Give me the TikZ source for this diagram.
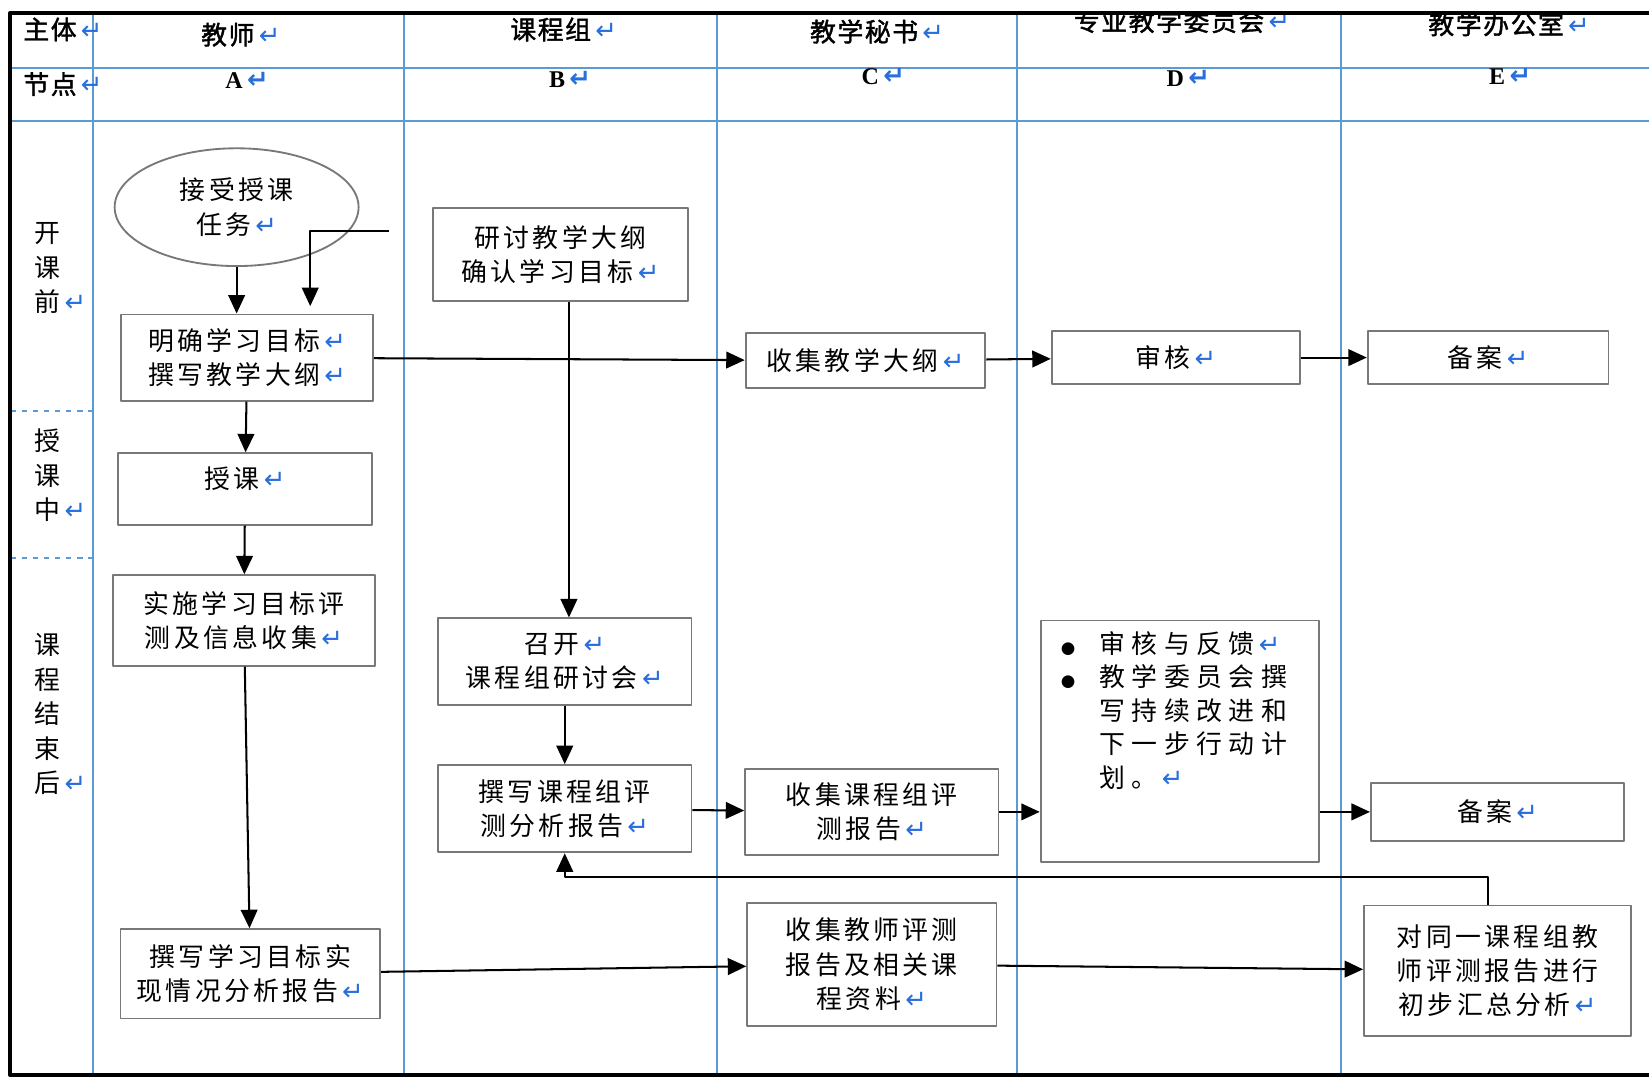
\documentclass[tikz,border=0pt]{standalone}
\usepackage{fontspec}
\setmainfont{Liberation Serif}
\newfontfamily\cjk[LetterSpace=13]{Noto Sans CJK SC}
\newfontfamily\cjkwide[LetterSpace=25]{Noto Sans CJK SC}
\newfontfamily\cjkhead[FakeBold=1.5,LetterSpace=6]{Noto Sans CJK SC}
\newfontfamily\symfont{DejaVu Sans}
\usetikzlibrary{arrows.meta,shapes.geometric}
\definecolor{laneblue}{RGB}{91,155,213}
\definecolor{retblue}{RGB}{40,110,220}
\definecolor{boxgray}{RGB}{120,120,120}
\newcommand\retmark{{\symfont\fontsize{14}{14}\selectfont\color{retblue}\,\char"21B5}}
\newcommand\dotmark{\llap{{\symfont\fontsize{9}{9}\selectfont\char"25CF}\hspace{13pt}}}
\begin{document}
\begin{tikzpicture}[x=0.02cm,y=-0.02cm,>={Triangle[length=10pt,width=9pt]},line join=round,
	box/.style={draw=boxgray,line width=1pt,align=center,font=\cjk\fontsize{14}{18.6}\selectfont},
	flow/.style={->,line width=1.1pt},
	lane/.style={draw=laneblue,line width=1.1pt},
	headtxt/.style={font=\cjkhead\fontsize{14}{18}\selectfont},
	rowtxt/.style={align=center,font=\cjk\fontsize{14}{18.7}\selectfont},
	nodeltr/.style={font=\bfseries\fontsize{13}{13}\selectfont}]
	\path[use as bounding box,fill=white] (0,0) rectangle (1568,1027);
	% Làn và hàng
	\foreach \x in {88,384,682,967,1275} \draw[lane] (\x,13)--(\x,1022);
	\foreach \y in {65,115} \draw[lane] (10,\y)--(1568,\y);
	\foreach \y in {391,531} \draw[lane,dashed] (10,\y)--(88,\y);
	\begin{scope}
		\clip (10,15) rectangle (1568,1022);
		\node[headtxt,anchor=west] (hSubj) at (16,28) {主体\retmark};
		\node[headtxt,anchor=west] (hNode) at (16,80) {节点\retmark};
		\node[headtxt] (hA) at (229,33) {教师\retmark};
		\node[headtxt] (hB) at (536,28) {课程组\retmark};
		\node[headtxt] (hC) at (834,30) {教学秘书\retmark};
		\node[headtxt] (hD) at (1124,20) {专业教学委员会\retmark};
		\node[headtxt] (hE) at (1435,23) {教学办公室\retmark};
	\end{scope}
	\foreach \l/\x/\y in {A/235/76,B/542/76,C/840/73,D/1130/75,E/1436/73}
	\node[nodeltr] (n\l) at (\x,\y) {\l\retmark};
	\draw[line width=2.3pt] (1568,12.7)--(9.5,12.7)--(9.5,1022)--(1568,1022);
	\node[rowtxt] (phaseA) at (45,255) {开\\课\\前\rlap{\retmark}};
	\node[rowtxt] (phaseB) at (45,452) {授\\课\\中\rlap{\retmark}};
	\node[rowtxt] (phaseC) at (45,679) {课\\程\\结\\束\\后\rlap{\retmark}};
	% Các bước
	\node[box,shape=ellipse,minimum width=4.64cm,minimum height=2.24cm] (accept) at (225,197) {接受授课\\任务\retmark};
	\node[box,minimum width=4.8cm,minimum height=1.64cm] (goals) at (235,340) {明确学习目标\retmark\\撰写教学大纲\retmark};
	\node[box,minimum width=4.84cm,minimum height=1.78cm] (syllabus) at (533,242) {研讨教学大纲\\确认学习目标\retmark};
	\node[box,minimum width=4.84cm,minimum height=1.36cm,text depth=12pt] (teach) at (233,465) {授课\retmark};
	\node[box,minimum width=4.98cm,minimum height=1.72cm] (assess) at (232,590) {实施学习目标评\\测及信息收集\retmark};
	\node[box,minimum width=4.94cm,minimum height=1.7cm] (tReport) at (238,926) {撰写学习目标实\\现情况分析报告\retmark};
	\node[box,minimum width=4.82cm,minimum height=1.64cm] (meeting) at (537,629) {召开\retmark\\课程组研讨会\retmark};
	\node[box,minimum width=4.82cm,minimum height=1.66cm] (gReport) at (537,769) {撰写课程组评\\测分析报告\retmark};
	\node[box,minimum width=4.56cm,minimum height=1.04cm] (collectS) at (823,343) {收集教学大纲\retmark};
	\node[box,minimum width=4.72cm,minimum height=1.02cm] (review) at (1118,340) {审核\retmark};
	\node[box,minimum width=4.58cm,minimum height=1.02cm] (fileA) at (1415,340) {备案\retmark};
	\node[box,minimum width=4.82cm,minimum height=1.64cm] (collectG) at (829,772) {收集课程组评\\测报告\retmark};
	\node[box,minimum width=5.3cm,minimum height=4.6cm] (feedback) at (1122,705) {};
	\node[anchor=north west,inner sep=0pt,align=left,font=\cjkwide\fontsize{14}{18.1}\selectfont] (feedbackTxt) at (1045,600)
	{\dotmark 审核与反馈\retmark\\\dotmark 教学委员会撰\\写持续改进和\\下一步行动计\\划。\retmark};
	\node[box,minimum width=4.82cm,minimum height=1.1cm] (fileB) at (1424,772) {备案\retmark};
	\node[box,minimum width=4.74cm,minimum height=2.34cm] (collectT) at (829,917) {收集教师评测\\报告及相关课\\程资料\retmark};
	\node[box,minimum width=5.08cm,minimum height=2.48cm] (summary) at (1424,923) {对同一课程组教\\师评测报告进行\\初步汇总分析\retmark};
	% Mũi tên
	\coordinate (fromSyl) at (370,220);
	\draw[flow] (accept)--(accept|-goals.north);
	\draw[flow,shorten >=4pt] (fromSyl)-|([xshift=1.2cm]goals.north);
	\draw[flow] (goals)--(collectS);
	\draw[flow] (collectS)--(review);
	\draw[flow] (review)--(fileA);
	\draw[flow] (goals)--(teach);
	\draw[flow] (teach)--(assess);
	\draw[flow] (assess)--(tReport);
	\draw[flow] ([xshift=0.16cm]syllabus.south)--([xshift=0.16cm]syllabus.south|-meeting.north);
	\draw[flow] (meeting)--(gReport);
	\draw[flow] (gReport)--(collectG);
	\draw[flow] (collectG.east)--(collectG.east-|feedback.west);
	\draw[flow] (feedback.east|-fileB)--(fileB);
	\draw[flow] (tReport)--(collectT);
	\draw[flow] (collectT)--(summary);
	\draw[flow] ([xshift=-0.18cm]summary.north)--++(0,-26)-|(gReport.south);
\end{tikzpicture}
\end{document}
